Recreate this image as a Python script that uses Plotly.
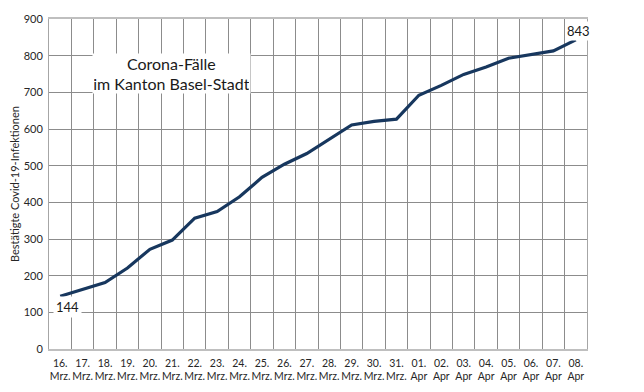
import plotly.graph_objects as go

days = ["16.", "17.", "18.", "19.", "20.", "21.", "22.", "23.", "24.", "25.", "26.", "27.",
        "28.", "29.", "30.", "31.", "01.", "02.", "03.", "04.", "05.", "06.", "07.", "08."]
months = ["Mrz."] * 16 + ["Apr"] * 8
cases = [144, 163, 181, 221, 272, 297, 357, 375, 415, 468, 504, 533,
         571, 611, 621, 627, 692, 719, 749, 769, 793, 804, 813, 843]
categories = [f"{d}<br>{m}" for d, m in zip(days, months)]

title_text = "Corona-Fälle<br>im Kanton Basel-Stadt"
y_title = "Bestätigte Covid-19-Infektionen"

fig = go.Figure()
fig.add_trace(go.Scatter(
    x=categories, y=cases, mode="lines",
    line=dict(color="#17375e", width=3.2),
    hoverinfo="skip",
))

fig.add_annotation(x=categories[0], y=cases[0], text=str(cases[0]), showarrow=False,
                   xshift=7, yshift=-11, bgcolor="white", borderpad=2,
                   font=dict(family="Lato", size=13, color="#1a1a1a"))
fig.add_annotation(x=categories[-1], y=cases[-1], text=str(cases[-1]), showarrow=False,
                   xshift=3, yshift=9, bgcolor="white", borderpad=1,
                   font=dict(family="Lato", size=13, color="#1a1a1a"))
fig.add_annotation(xref="paper", yref="paper", x=0.2286, y=0.836, text=title_text,
                   showarrow=False, bgcolor="white", width=155, height=37,
                   xanchor="center", yanchor="middle", align="center",
                   font=dict(family="Lato", size=16, color="#1a1a1a"))
fig.add_annotation(xref="paper", yref="paper", x=-35 / 538, y=0.5, text=y_title,
                   showarrow=False, textangle=-90, xanchor="center", yanchor="middle",
                   font=dict(family="Lato", size=11, color="#262626"))

fig.update_layout(
    width=636, height=384,
    margin=dict(l=41, r=57, t=11, b=43),
    paper_bgcolor="white", plot_bgcolor="white",
    showlegend=False,
    font=dict(family="Lato", color="#262626"),
)
fig.update_xaxes(
    type="category", tickson="boundaries", showgrid=True, gridcolor="#8c8c8c", gridwidth=1,
    ticks="", tickfont=dict(size=10.5, family="Lato", color="#262626"),
    showline=True, linecolor="#bfbfbf", linewidth=2, mirror=True,
    range=[-0.5, 23.5], tickangle=0, automargin=False, ticklabelstandoff=3,
)
fig.update_yaxes(
    range=[0, 900], dtick=100, showgrid=True, gridcolor="#8c8c8c", gridwidth=1,
    zeroline=False, ticks="", ticklabelstandoff=3,
    tickfont=dict(size=11, family="Lato", color="#262626"),
    showline=True, linecolor="#a6a6a6", linewidth=1, mirror=True, automargin=False,
)

fig.write_html("out.html")
